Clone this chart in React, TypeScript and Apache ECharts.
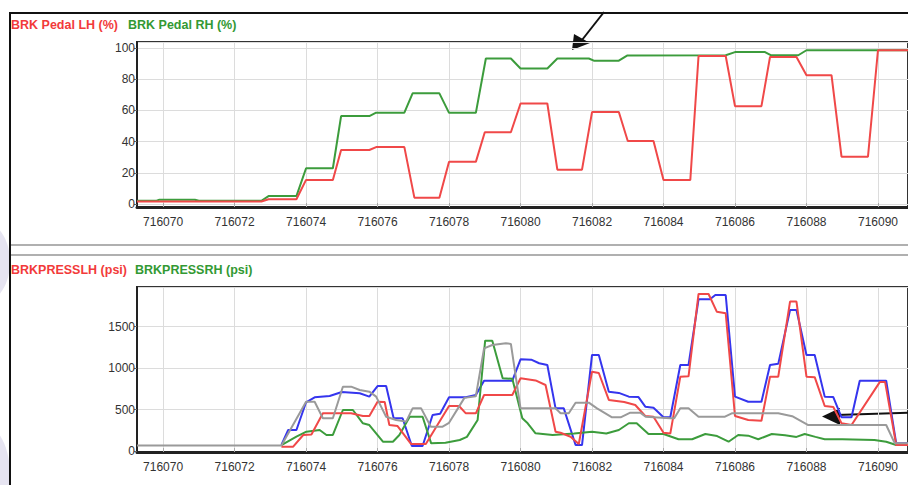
import React, { useEffect, useRef } from "react";
import * as echarts from "echarts";

// ---------- data ----------
const xMin = 716069.27;
const xMax = 716090.84;

const pedalLhX = [716069.27, 716072.75, 716072.95, 716073.73, 716074.0, 716074.75, 716074.98, 716075.77, 716075.96, 716076.75, 716077.03, 716077.73, 716078.0, 716078.75, 716079.0, 716079.73, 716080.0, 716080.75, 716081.03, 716081.72, 716082.0, 716082.75, 716083.0, 716083.72, 716084.0, 716084.75, 716084.98, 716085.74, 716086.0, 716086.74, 716086.98, 716087.72, 716088.0, 716088.7, 716088.98, 716089.72, 716090.0, 716090.84];
const pedalLhY = [1.5, 1.5, 3, 3, 15.4, 15.4, 34.6, 34.6, 36.5, 36.5, 4, 4, 27, 27, 46, 46, 64.5, 64.5, 22, 22, 59, 59, 40.4, 40.4, 15.4, 15.4, 95, 95, 62.8, 62.8, 94.4, 94.4, 82.7, 82.7, 30.3, 30.3, 98.7, 98.7];

const pedalRhX = [716069.27, 716069.82, 716069.9, 716070.89, 716071.0, 716072.75, 716072.95, 716073.73, 716074.0, 716074.75, 716074.98, 716075.77, 716075.96, 716076.75, 716076.98, 716077.73, 716078.0, 716078.75, 716079.03, 716079.73, 716080.0, 716080.75, 716081.03, 716081.91, 716082.05, 716082.75, 716082.98, 716085.74, 716086.0, 716086.84, 716087.0, 716087.77, 716088.0, 716090.84];
const pedalRhY = [2, 2, 2.7, 2.7, 2, 2, 5, 5, 22.9, 22.9, 56.4, 56.4, 58.6, 58.6, 71, 71, 58.5, 58.5, 93.4, 93.4, 87, 87, 93.4, 93.4, 92, 92, 95.3, 95.5, 97.5, 97.5, 95.5, 95.5, 98.7, 98.7];

const pressLhX = [716073.31, 716073.64, 716073.92, 716074.15, 716074.47, 716075.26, 716075.59, 716075.77, 716076.0, 716076.2, 716076.33, 716076.56, 716076.94, 716077.35, 716078.0, 716078.28, 716078.47, 716078.75, 716078.98, 716079.77, 716080.0, 716080.42, 716080.7, 716080.98, 716081.12, 716081.4, 716081.63, 716082.0, 716082.19, 716082.47, 716082.9, 716083.21, 716083.49, 716083.72, 716084.0, 716084.19, 716084.47, 716084.7, 716084.98, 716085.26, 716085.49, 716085.74, 716086.0, 716086.37, 716086.74, 716086.98, 716087.21, 716087.54, 716087.72, 716088.0, 716088.23, 716088.51, 716088.75, 716088.98, 716089.26, 716090.05, 716090.2, 716090.51, 716090.84];
const pressLhY = [50, 52, 193, 200, 454, 454, 422, 422, 594, 590, 313, 300, 84, 84, 542, 542, 454, 454, 675, 675, 876, 850, 795, 233, 220, 172, 84, 956, 940, 615, 590, 554, 422, 413, 221, 210, 896, 900, 1892, 1892, 1679, 1660, 422, 374, 365, 896, 896, 1800, 1800, 896, 890, 542, 530, 334, 313, 830, 830, 72, 72];

const pressRhX = [716073.31, 716073.73, 716074.01, 716074.38, 716074.57, 716074.75, 716075.03, 716075.31, 716075.59, 716075.77, 716076.15, 716076.43, 716076.61, 716076.9, 716077.26, 716077.5, 716077.9, 716078.3, 716078.5, 716078.8, 716079.01, 716079.21, 716079.5, 716079.77, 716080.05, 716080.2, 716080.42, 716080.9, 716081.5, 716082.0, 716082.4, 716082.75, 716083.03, 716083.25, 716083.58, 716084.0, 716084.42, 716084.8, 716085.17, 716085.5, 716085.82, 716086.09, 716086.37, 716086.65, 716087.03, 716087.4, 716087.72, 716087.95, 716088.25, 716088.51, 716089.0, 716089.9, 716090.23, 716090.51, 716090.84];
const pressRhY = [72, 172, 233, 253, 193, 193, 494, 494, 334, 313, 112, 112, 193, 413, 413, 92, 100, 133, 170, 374, 1329, 1329, 876, 870, 394, 334, 213, 193, 210, 233, 210, 253, 334, 334, 205, 205, 141, 141, 205, 180, 112, 193, 185, 141, 205, 190, 170, 205, 170, 141, 141, 133, 112, 72, 72];

const pressBlueX = [716073.31, 716073.5, 716073.73, 716074.0, 716074.24, 716074.66, 716075.0, 716075.5, 716075.77, 716076.0, 716076.24, 716076.45, 716076.7, 716076.96, 716077.26, 716077.54, 716077.75, 716078.0, 716078.47, 716078.75, 716078.98, 716079.77, 716080.0, 716080.3, 716080.52, 716080.75, 716080.98, 716081.21, 716081.54, 716081.72, 716082.0, 716082.19, 716082.47, 716082.75, 716083.03, 716083.3, 716083.49, 716083.72, 716084.0, 716084.19, 716084.47, 716084.7, 716084.98, 716085.3, 716085.45, 716085.74, 716086.0, 716086.37, 716086.74, 716086.98, 716087.21, 716087.54, 716087.72, 716088.0, 716088.23, 716088.51, 716088.75, 716088.98, 716089.26, 716089.49, 716090.23, 716090.51, 716090.84];
const pressBlueY = [72, 253, 253, 587, 647, 663, 711, 695, 655, 783, 783, 394, 394, 60, 60, 434, 450, 647, 647, 675, 847, 847, 1105, 1100, 1057, 1036, 514, 514, 72, 72, 1157, 1157, 715, 700, 655, 650, 534, 520, 406, 406, 1036, 1036, 1828, 1828, 1880, 1880, 655, 594, 594, 1036, 1050, 1699, 1699, 1157, 1157, 655, 650, 406, 406, 847, 847, 92, 92];

const pressGrayX = [716069.27, 716073.31, 716074.0, 716074.24, 716074.47, 716074.75, 716075.03, 716075.26, 716075.5, 716075.77, 716075.96, 716076.24, 716076.52, 716076.8, 716076.98, 716077.22, 716077.49, 716077.82, 716078.0, 716078.43, 716078.75, 716078.98, 716079.21, 716079.59, 716079.73, 716080.0, 716080.98, 716081.12, 716081.35, 716081.54, 716081.91, 716082.14, 716082.56, 716082.8, 716083.07, 716083.35, 716083.5, 716084.19, 716084.3, 716084.47, 716084.7, 716084.98, 716085.72, 716085.91, 716087.21, 716087.6, 716088.05, 716090.23, 716090.47, 716090.84];
const pressGrayY = [65, 65, 594, 594, 394, 394, 775, 775, 735, 715, 655, 413, 374, 354, 514, 514, 293, 293, 340, 640, 660, 1237, 1277, 1298, 1290, 514, 514, 454, 454, 582, 582, 514, 406, 406, 462, 462, 413, 394, 394, 514, 514, 413, 413, 454, 454, 420, 313, 313, 92, 92];

const legendTop = ["BRK Pedal LH (%)", "BRK Pedal RH (%)"];
const legendBottom = ["BRKPRESSLH (psi)", "BRKPRESSRH (psi)"];

const zip = (xs: number[], ys: number[]) => xs.map((x, i) => [x, ys[i]]);

const RED = "#f04848";
const GREEN = "#3c9c3c";
const BLUE = "#3535ee";
const GRAY = "#9a9a9a";
const FONT = "'Liberation Sans', Arial, sans-serif";

export default function App() {
  const ref = useRef<HTMLDivElement>(null);
  useEffect(() => {
    document.body.style.margin = "0";
    if (!ref.current) return;
    const chart = echarts.init(ref.current, undefined, { renderer: "svg" });
    const axisLabel = { color: "#333", fontSize: 12, fontFamily: FONT };
    const plain = (v: number) => String(Math.round(v));
    const xAxisOf = (i: number) => ({
      type: "value",
      gridIndex: i,
      min: xMin,
      max: xMax,
      splitNumber: 10,
      minInterval: 2,
      maxInterval: 2,
      axisLine: { show: true, onZero: false, lineStyle: { color: "#222", width: 3 } },
      axisTick: { show: true, inside: true, length: 4, lineStyle: { color: "#aaa" } },
      axisLabel: { ...axisLabel, margin: 9, showMinLabel: false, showMaxLabel: false, formatter: plain },
      splitLine: { show: true, lineStyle: { color: "#dcdcdc", width: 1 } },
    });
    const yAxisOf = (i: number, min: number, max: number, step: number, split: number) => ({
      type: "value",
      gridIndex: i,
      min,
      max,
      splitNumber: split,
      minInterval: step,
      maxInterval: step,
      axisLine: { show: true, onZero: false, lineStyle: { color: "#222", width: 2 } },
      axisTick: { show: true, length: 3, lineStyle: { color: "#666" } },
      axisLabel: { ...axisLabel, margin: 2, showMinLabel: false, showMaxLabel: false, formatter: plain },
      splitLine: { show: true, lineStyle: { color: "#dcdcdc", width: 1 } },
    });
    const line = (name: string, xi: number, data: number[][], color: string) => ({
      name,
      type: "line",
      xAxisIndex: xi,
      yAxisIndex: xi,
      data,
      showSymbol: false,
      symbol: "none",
      lineStyle: { color, width: 2 },
      itemStyle: { color },
    });
    const arrow = (sx: number, sy: number, ex: number, ey: number, tip: number[], a: number[], b: number[]) => [
      { type: "line", shape: { x1: sx, y1: sy, x2: ex, y2: ey }, style: { stroke: "#111", lineWidth: 2 } },
      { type: "polygon", shape: { points: [tip, a, b] }, style: { fill: "#111" } },
    ];
    const legendFont = `bold 12.5px ${FONT}`;
    chart.setOption({
      animation: false,
      backgroundColor: "#fff",
      grid: [
        { left: 137, top: 42, width: 773, height: 165, show: true, borderColor: "#333", borderWidth: 2, backgroundColor: "transparent" },
        { left: 137, top: 287, width: 773, height: 165, show: true, borderColor: "#333", borderWidth: 2, backgroundColor: "transparent" },
      ],
      xAxis: [xAxisOf(0), xAxisOf(1)],
      yAxis: [yAxisOf(0, -2, 104, 20, 5), yAxisOf(1, -12, 1976, 500, 4)],
      series: [
        line(legendTop[1], 0, zip(pedalRhX, pedalRhY), GREEN),
        line(legendTop[0], 0, zip(pedalLhX, pedalLhY), RED),
        line("BLUE", 1, zip(pressBlueX, pressBlueY), BLUE),
        line(legendBottom[1], 1, zip(pressRhX, pressRhY), GREEN),
        line(legendBottom[0], 1, zip(pressLhX, pressLhY), RED),
        line("GRAY", 1, zip(pressGrayX, pressGrayY), GRAY),
      ],
      graphic: [
        { type: "ellipse", silent: true, shape: { cx: -16, cy: 262, rx: 26, ry: 40 }, style: { fill: "#e6e4f1" } },
        { type: "ellipse", silent: true, shape: { cx: -16, cy: 475, rx: 26, ry: 50 }, style: { fill: "#e6e4f1" } },
        { type: "line", silent: true, shape: { x1: 9, y1: 13, x2: 908, y2: 13 }, style: { stroke: "#111", lineWidth: 2 } },
        { type: "line", silent: true, shape: { x1: 10, y1: 12, x2: 10, y2: 485 }, style: { stroke: "#111", lineWidth: 2 } },
        { type: "line", silent: true, shape: { x1: 11, y1: 245, x2: 908, y2: 245 }, style: { stroke: "#b0b0b0", lineWidth: 2 } },
        { type: "line", silent: true, shape: { x1: 11, y1: 255, x2: 908, y2: 255 }, style: { stroke: "#b0b0b0", lineWidth: 2 } },
        { type: "text", x: 11, y: 25, style: { text: legendTop[0], fill: "#f23a3a", font: legendFont, verticalAlign: "middle" } },
        { type: "text", x: 128, y: 25, style: { text: legendTop[1], fill: "#339933", font: legendFont, verticalAlign: "middle" } },
        { type: "text", x: 11, y: 270, style: { text: legendBottom[0], fill: "#f23a3a", font: legendFont, verticalAlign: "middle" } },
        { type: "text", x: 135, y: 270, style: { text: legendBottom[1], fill: "#339933", font: legendFont, verticalAlign: "middle" } },
        ...arrow(604, 12, 582, 40, [572, 50], [574, 34], [590, 43]),
        ...arrow(908, 412.7, 836, 415, [822, 416.5], [840, 408], [840, 425]),
      ],
    });
    return () => chart.dispose();
  }, []);
  return <div ref={ref} style={{ position: "absolute", left: 0, top: 0, width: 908, height: 485 }} />;
}
